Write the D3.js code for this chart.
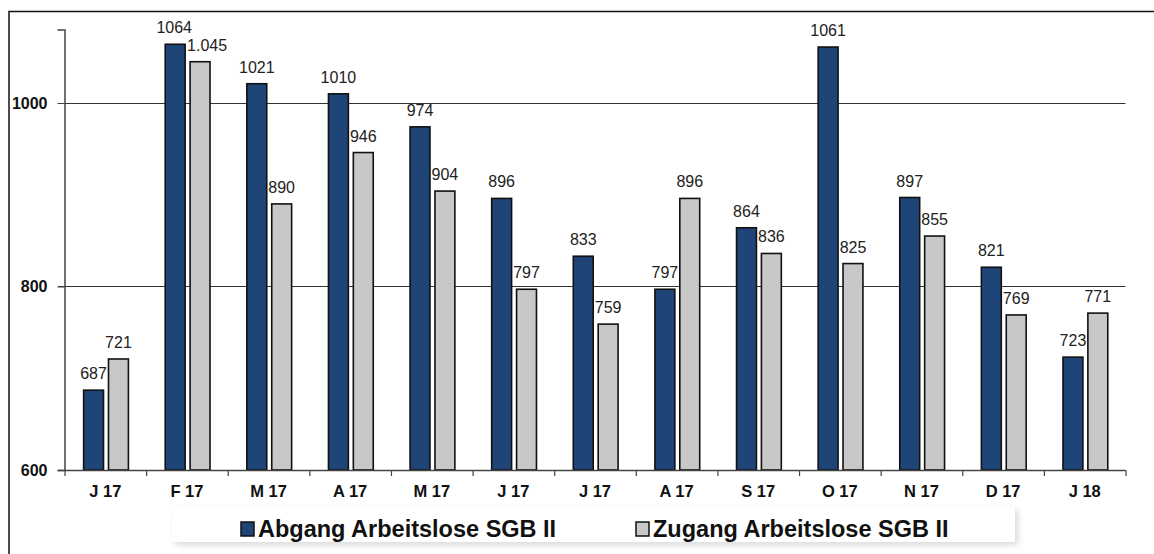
<!DOCTYPE html>
<html><head><meta charset="utf-8">
<script src="https://cdn.jsdelivr.net/npm/d3@7"></script>
<style>html,body{margin:0;padding:0;background:#fff;}svg{display:block;}</style>
</head><body>
<svg id="c" width="1154" height="554"></svg>
<script>
const categories = ["J 17","F 17","M 17","A 17","M 17","J 17","J 17","A 17","S 17","O 17","N 17","D 17","J 18"];
const abgang = [687,1064,1021,1010,974,896,833,797,864,1061,897,821,723];
const zugang = [721,1045,890,946,904,797,759,896,836,825,855,769,771];
const abgangLabels = ["687","1064","1021","1010","974","896","833","797","864","1061","897","821","723"];
const zugangLabels = ["721","1.045","890","946","904","797","759","896","836","825","855","769","771"];
const seriesNames = ["Abgang Arbeitslose SGB II","Zugang Arbeitslose SGB II"];
const yTicks = [600,800,1000];

const svg = d3.select("#c");
const font = "'Liberation Sans', Arial, sans-serif";
const colors = ["#1f4478","#c8c8c8"];

// outer frame
svg.append("rect").attr("x",9).attr("y",11.5).attr("width",1200).attr("height",600)
  .attr("fill","none").attr("stroke","#111").attr("stroke-width",1.5);

const x0 = 64.5, x1 = 1125.5;
const x = d3.scaleBand().domain(d3.range(categories.length)).range([x0,x1]).padding(0);
const xi = d3.scaleBand().domain([0,1]).range([0,x.bandwidth()]).paddingInner(0.2).paddingOuter(0.74);
const y = d3.scaleLinear().domain([600,1080]).range([470,29.6]);

// gridlines
svg.append("g").selectAll("line").data(yTicks.filter(t=>t>600)).join("line")
  .attr("x1",58).attr("x2",x1).attr("y1",d=>Math.round(y(d))+0.5).attr("y2",d=>Math.round(y(d))+0.5)
  .attr("stroke","#333").attr("stroke-width",1.2);

// y axis
const yAxis = d3.axisLeft(y).tickValues(yTicks).tickSize(7).tickPadding(10).tickFormat(d3.format("d"));
const gy = svg.append("g").attr("transform",`translate(${x0},0)`).call(yAxis);
gy.select(".domain").attr("stroke","#444").attr("stroke-width",1.5);
gy.selectAll(".tick line").attr("stroke","#444");
gy.selectAll("text").attr("font-family",font).attr("font-size",16).attr("font-weight","bold").attr("fill","#111");

// bars
const data = categories.map((c,i)=>({i, vals:[abgang[i],zugang[i]], labs:[abgangLabels[i],zugangLabels[i]]}));
const grp = svg.append("g").selectAll("g").data(data).join("g")
  .attr("transform",d=>`translate(${x(d.i)+0.7},0)`);
grp.selectAll("rect").data(d=>d.vals.map((v,k)=>({v,k}))).join("rect")
  .attr("x",d=>xi(d.k)).attr("width",xi.bandwidth())
  .attr("y",d=>y(d.v)).attr("height",d=>y(600)-y(d.v))
  .attr("fill",d=>colors[d.k]).attr("stroke","#111").attr("stroke-width",1.6);
// labels, nudged apart horizontally when the pair would collide
grp.selectAll("text").data(d=>{
    const close = Math.abs(y(d.vals[0])-y(d.vals[1])) < 20;
    return d.labs.map((l,k)=>({l,k,v:d.vals[k],dx: close ? (k===0?-1:7) : 0}));
  }).join("text")
  .attr("x",d=>xi(d.k)+xi.bandwidth()/2+d.dx).attr("y",d=>y(d.v)-11)
  .attr("text-anchor","middle").attr("font-family",font).attr("font-size",16)
  .attr("fill","#222").text(d=>d.l);

// x axis
const xAxis = d3.axisBottom(d3.scaleLinear().domain([0,categories.length]).range([x0,x1]))
  .tickValues(d3.range(categories.length+1)).tickSize(6).tickFormat("");
const gx = svg.append("g").attr("transform",`translate(0,${y(600)})`).call(xAxis);
gx.select(".domain").attr("stroke","#444").attr("stroke-width",1.5).attr("d",`M58,0.5H${x1}`);
gx.selectAll(".tick line").attr("stroke","#444").attr("stroke-width",1.2);
svg.append("g").selectAll("text").data(categories).join("text")
  .attr("x",(d,i)=>x(i)+x.bandwidth()/2).attr("y",497)
  .attr("text-anchor","middle").attr("font-family",font).attr("font-size",16.5).attr("font-weight","bold")
  .attr("fill","#111").text(d=>d);

// legend
const defs = svg.append("defs");
const f = defs.append("filter").attr("id","sh").attr("x","-5%").attr("y","-30%").attr("width","110%").attr("height","170%");
f.append("feGaussianBlur").attr("in","SourceAlpha").attr("stdDeviation",3);
f.append("feOffset").attr("dx",3).attr("dy",3).attr("result","ob");
f.append("feComponentTransfer").append("feFuncA").attr("type","linear").attr("slope",0.15);
const fm = f.append("feMerge"); fm.append("feMergeNode"); fm.append("feMergeNode").attr("in","SourceGraphic");
svg.append("rect").attr("x",172).attr("y",507).attr("width",843).attr("height",35)
  .attr("fill","#fff").attr("filter","url(#sh)");
const legX = [241,636];
const lg = svg.append("g").selectAll("g").data(seriesNames).join("g")
  .attr("transform",(d,i)=>`translate(${legX[i]},0)`);
lg.append("rect").attr("x",0).attr("y",522).attr("width",13).attr("height",14)
  .attr("fill",(d,i)=>colors[i]).attr("stroke","#111").attr("stroke-width",1.5);
lg.append("text").attr("x",17).attr("y",537).attr("font-family",font).attr("font-size",23.5)
  .attr("font-weight","bold").attr("fill","#111").text(d=>d);
</script>
</body></html>
